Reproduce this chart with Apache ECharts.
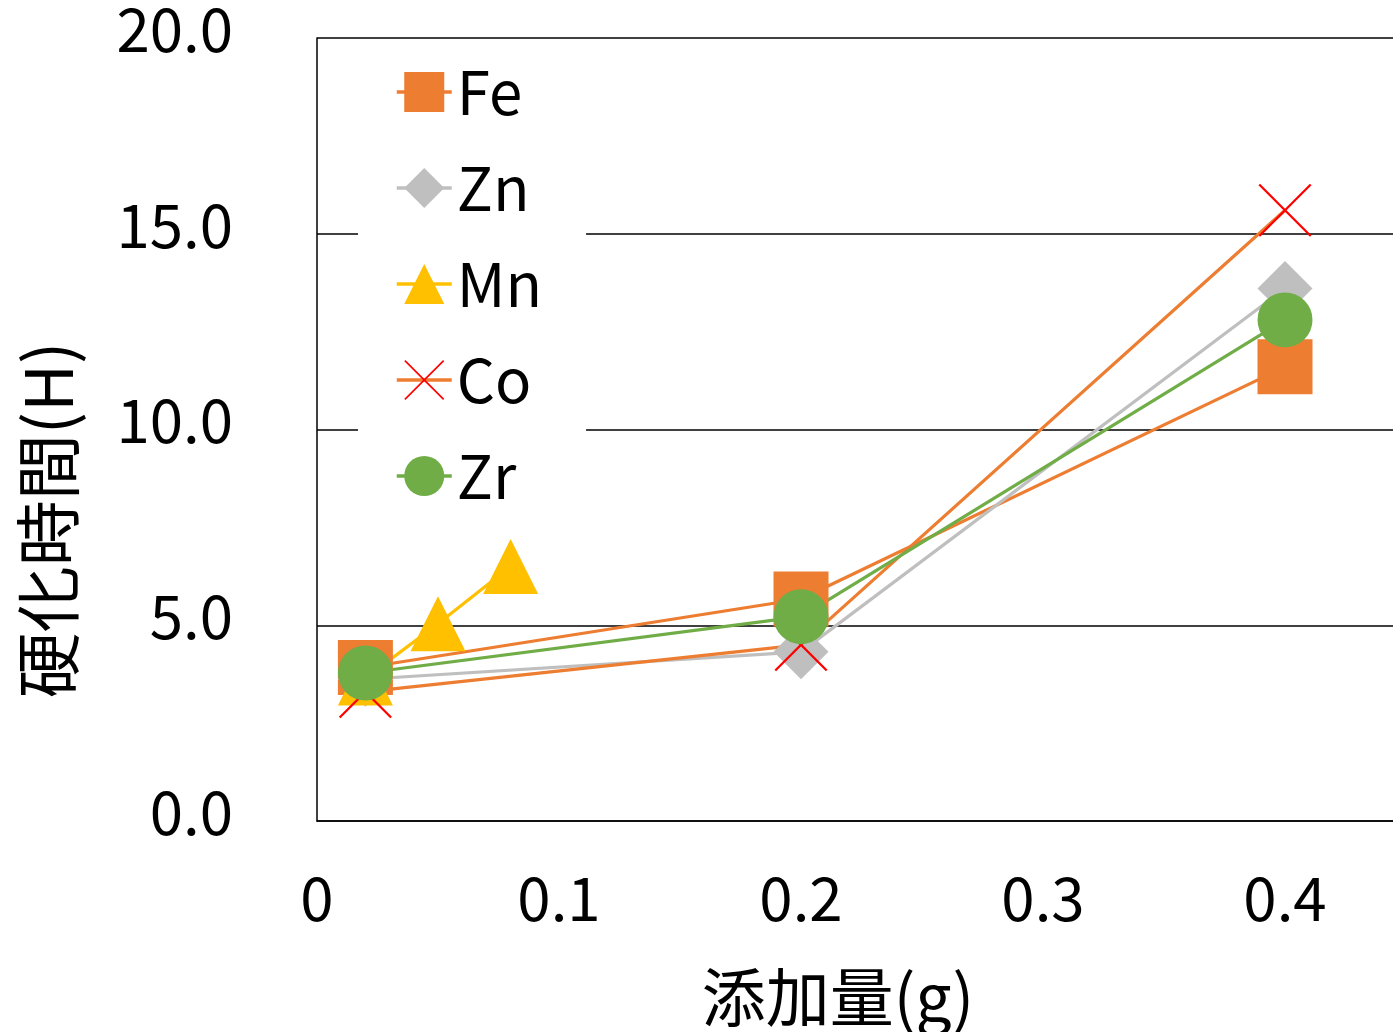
<!DOCTYPE html>
<html>
<head>
<meta charset="utf-8">
<script src="https://cdn.jsdelivr.net/npm/echarts@6/dist/echarts.min.js"></script>
<style>
html,body{margin:0;padding:0;background:#fff;}
#chart{width:1393px;height:1032px;}
</style>
</head>
<body>
<div id="chart"></div>
<script>
// ---- data ----
const seriesNames = ['Fe', 'Zn', 'Mn', 'Co', 'Zr'];
const xMain = [0.02, 0.2, 0.4];
const xMn = [0.02, 0.05, 0.08];
const feValues = [3.92, 5.67, 11.6];
const znValues = [3.62, 4.32, 13.6];
const mnValues = [3.65, 5.04, 6.5];
const coValues = [3.3, 4.5, 15.6];
const zrValues = [3.78, 5.22, 12.8];
const xTicks = [0, 0.1, 0.2, 0.3, 0.4];
const yTicks = [0, 5, 10, 15, 20];
const xTitle = '添加量(g)';
const yTitle = '硬化時間(H)';

const FONT = '"Noto Sans CJK JP", "Noto Sans", sans-serif';
const pair = (xs, ys) => xs.map((x, i) => [x, ys[i]]);
const xPath = 'path://M0,3 L3,0 L100,97 L97,100 Z M97,0 L100,3 L3,100 L0,97 Z';

function mk(name, xs, ys, color, symbol, size, lineColor) {
  return {
    name: name, type: 'line', data: pair(xs, ys),
    symbol: symbol, symbolSize: size,
    itemStyle: {color: color, borderWidth: 0},
    lineStyle: {color: lineColor || color, width: 3.2},
    emphasis: {disabled: true}
  };
}

const chart = echarts.init(document.getElementById('chart'), null, {renderer: 'canvas'});
chart.setOption({
  animation: false,
  backgroundColor: '#fff',
  textStyle: {fontFamily: FONT},
  grid: {left: 317, top: 38, bottom: 211, right: -13, containLabel: false, outerBoundsMode: 'none'},
  xAxis: {
    type: 'value', min: 0, max: 0.45, interval: 0.1,
    axisLine: {show: true, lineStyle: {color: '#000', width: 1.5}},
    axisTick: {show: false},
    splitLine: {show: false},
    axisLabel: {
      fontSize: 60, color: '#000', fontFamily: FONT, margin: 47,
      showMaxLabel: false,
      formatter: v => (xTicks.indexOf(Math.round(v * 10) / 10) >= 0 ? String(Math.round(v * 10) / 10) : '')
    }
  },
  yAxis: {
    type: 'value', min: 0, max: 20, interval: 5,
    axisLine: {show: true, lineStyle: {color: '#000', width: 1.5}},
    axisTick: {show: false},
    splitLine: {show: true, lineStyle: {color: '#000', width: 1.5}},
    axisLabel: {
      fontSize: 60, color: '#000', fontFamily: FONT, margin: 84,
      verticalAlign: 'bottom', lineHeight: 18,
      formatter: v => (yTicks.indexOf(v) >= 0 ? v.toFixed(1) : '')
    }
  },
  legend: {
    orient: 'vertical', left: 358, top: 42, z: 1,
    padding: [20, 44, 14, 37],
    backgroundColor: '#fff',
    itemWidth: 55, itemHeight: 50, itemGap: 36,
    lineStyle: {width: 3.5},
    textStyle: {fontSize: 60, lineHeight: 50, color: '#000', fontFamily: FONT},
    data: seriesNames
  },
  graphic: [
    {type: 'text', x: 838, y: 997, style: {text: xTitle, font: '64px ' + FONT, fill: '#000', textAlign: 'center', textVerticalAlign: 'middle'}},
    {type: 'text', x: 48, y: 520, rotation: Math.PI / 2, style: {text: yTitle, font: '66px ' + FONT, fill: '#000', textAlign: 'center', textVerticalAlign: 'middle'}}
  ],
  series: [
    mk('Fe', xMain, feValues, '#ED7D31', 'rect', 55),
    mk('Zn', xMain, znValues, '#BFBFBF', 'diamond', 55),
    mk('Mn', xMn, mnValues, '#FFC000', 'triangle', 55),
    mk('Co', xMain, coValues, '#FF0000', xPath, 53, '#ED7D31'),
    mk('Zr', xMain, zrValues, '#70AD47', 'circle', 55)
  ]
});
</script>
</body>
</html>
